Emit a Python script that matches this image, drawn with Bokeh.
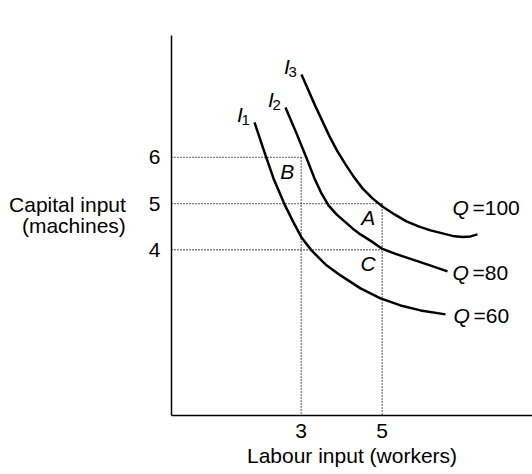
from bokeh.plotting import figure
from bokeh.models import FixedTicker, Range1d
from bokeh.core.properties import value
from bokeh.embed import file_html
from bokeh.resources import INLINE

# ---- data ----
x_ticks = [3, 5]
y_ticks = [4, 5, 6]

i1_x = [1.847, 2.069, 2.316, 2.612, 2.810, 3.007, 3.254, 3.600, 3.970, 4.464,
        4.958, 5.452, 5.946, 6.563]
i1_y = [6.758, 6.173, 5.545, 4.938, 4.592, 4.267, 3.986, 3.682, 3.444, 3.163,
        2.946, 2.794, 2.686, 2.600]

i2_x = [2.612, 2.884, 3.106, 3.328, 3.501, 3.674, 3.872, 4.069, 4.267, 4.464,
        4.736, 5.007, 5.328, 5.699, 6.143, 6.612]
i2_y = [7.083, 6.520, 6.043, 5.545, 5.220, 4.960, 4.765, 4.614, 4.462, 4.332,
        4.181, 4.018, 3.910, 3.802, 3.672, 3.531]

i3_x = [3.007, 3.180, 3.353, 3.526, 3.699, 3.896, 4.094, 4.291, 4.514, 4.760,
        5.007, 5.304, 5.600, 5.896, 6.193, 6.489, 6.736, 6.983, 7.180, 7.353]
i3_y = [7.798, 7.451, 7.105, 6.780, 6.455, 6.130, 5.848, 5.588, 5.329, 5.112,
        4.938, 4.765, 4.614, 4.506, 4.419, 4.354, 4.300, 4.278, 4.289, 4.332]

curve_names = ["1", "2", "3"]
q_values = ["60", "80", "100"]

point_names = ["B", "A", "C"]
point_x = [3, 5, 5]
point_y = [6, 5, 4]

x_label = "Labour input (workers)"
y_label = "Capital input\n(machines)\n "

# ---- figure ----
X0, X1 = -0.2025, 8.711
Y0, Y1 = 0.41, 8.64
FONT = "Liberation Sans"
FS = "21px"

p = figure(width=532, height=474, output_backend="svg", toolbar_location=None,
           x_range=Range1d(X0, X1), y_range=Range1d(Y0, Y1),
           min_border_left=171, min_border_right=0, min_border_top=35,
           min_border_bottom=59)
p.outline_line_color = None
p.grid.visible = False

for ax in (p.xaxis[0], p.yaxis[0]):
    ax.axis_line_color = "black"
    ax.axis_line_width = 1.5
    ax.major_tick_out = 0
    ax.major_tick_in = 0
    ax.minor_tick_out = 0
    ax.minor_tick_in = 0
    ax.major_label_text_font = FONT
    ax.major_label_text_font_size = FS
    ax.major_label_text_color = "black"
    ax.axis_label_text_font = FONT
    ax.axis_label_text_font_size = FS
    ax.axis_label_text_font_style = "normal"
    ax.axis_label_text_color = "black"

p.xaxis.ticker = FixedTicker(ticks=x_ticks)
p.yaxis.ticker = FixedTicker(ticks=y_ticks)
p.xaxis.major_label_standoff = 8
p.yaxis.major_label_standoff = 11

p.xaxis.axis_label = x_label
p.xaxis.axis_label_standoff = 3

p.yaxis.axis_label = y_label
p.yaxis.axis_label_orientation = "horizontal"
p.yaxis.axis_label_standoff = 20
p.yaxis.axis_label_text_align = "center"
p.yaxis.axis_label_text_line_height = 0.9

# dotted guide lines
p.segment(x0=[X0] * len(point_x), y0=point_y, x1=point_x, y1=point_y,
          line_color="black", line_width=1.3, line_dash="1 2")
vx = sorted(set(point_x))
vy = [max(yy for xx, yy in zip(point_x, point_y) if xx == v) for v in vx]
p.segment(x0=vx, y0=vy, x1=vx, y1=[Y0] * len(vx),
          line_color="black", line_width=1.3, line_dash="1 2")

# isoquants
curves = [(i1_x, i1_y), (i2_x, i2_y), (i3_x, i3_y)]
for cx, cy in curves:
    p.line(cx, cy, line_color="black", line_width=2.5, line_join="round", line_cap="butt")

# I labels near curve starts
sx = [c[0][0] for c in curves]
sy = [c[1][0] for c in curves]
p.text(x=sx, y=sy, text=["I"] * 3, x_offset=-14.5, y_offset=-8,
       text_font=value(FONT), text_font_size=FS, text_font_style="italic",
       text_align="center", text_baseline="middle", text_color="black")
p.text(x=sx, y=sy, text=curve_names, x_offset=-13, y_offset=-2,
       text_font=value(FONT), text_font_size="15px",
       text_align="left", text_baseline="middle", text_color="black")

# Q labels near curve ends
ex = [c[0][-1] for c in curves]
ey = [c[1][-1] for c in curves]
qx_off = [8, 5, -25]
qy_off = [1, 1, -27]
p.text(x=ex, y=ey, text=["Q"] * 3, x_offset=qx_off, y_offset=qy_off,
       text_font=value(FONT), text_font_size=FS, text_font_style="italic",
       text_align="left", text_baseline="middle", text_color="black")
p.text(x=ex, y=ey, text=["=" + q for q in q_values],
       x_offset=[o + 20 for o in qx_off], y_offset=qy_off,
       text_font=value(FONT), text_font_size=FS,
       text_align="left", text_baseline="middle", text_color="black")

# point labels
p.text(x=point_x, y=point_y, text=point_names, x_offset=-14, y_offset=14,
       text_font=value(FONT), text_font_size=FS, text_font_style="italic",
       text_align="center", text_baseline="middle", text_color="black")

open("out.html", "w").write(file_html(p, INLINE))
